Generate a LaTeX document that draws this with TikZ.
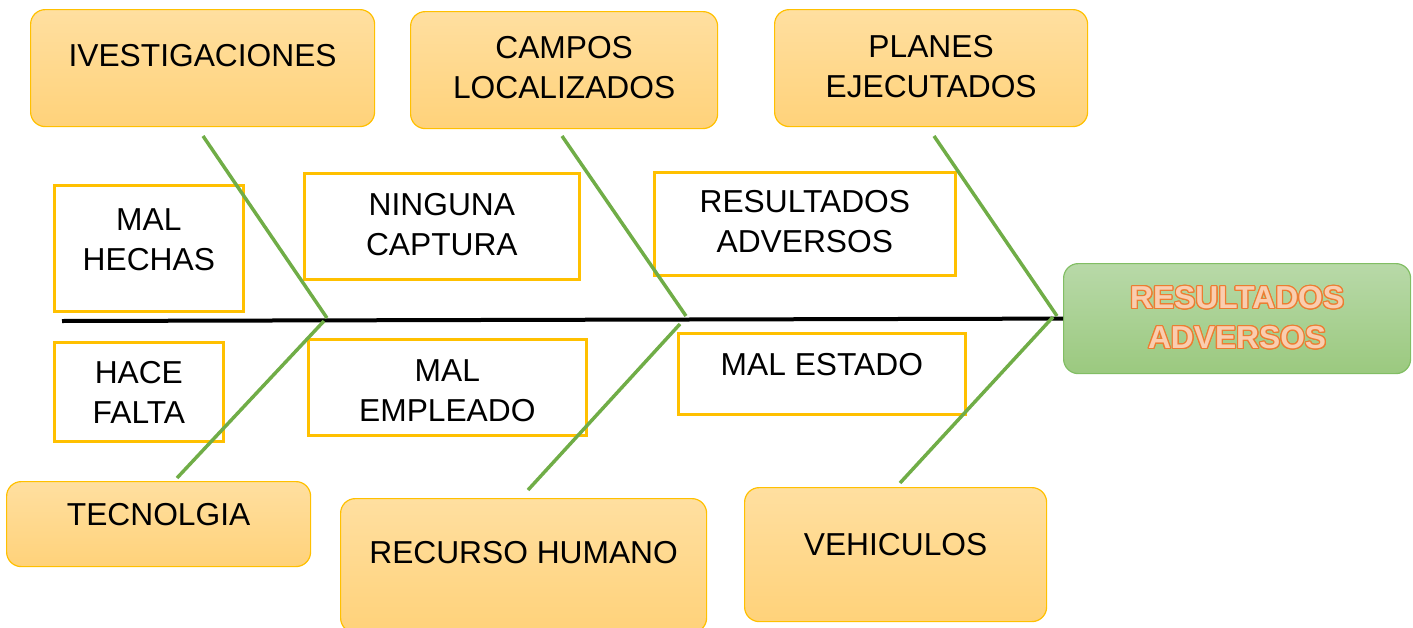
\documentclass[tikz,border=0pt]{standalone}
\usepackage{fontspec}
\setmainfont{Liberation Sans}
\usepackage{contour}
\contourlength{0.9pt}

\definecolor{boxgold}{RGB}{255,192,0}
\definecolor{boxtop}{RGB}{255,223,160}
\definecolor{boxbot}{RGB}{255,210,122}
\definecolor{bonegreen}{RGB}{112,173,71}
\definecolor{restop}{RGB}{184,217,168}
\definecolor{resbot}{RGB}{155,201,127}
\definecolor{resline}{RGB}{130,190,100}
\definecolor{restext}{RGB}{250,205,175}
\definecolor{resedge}{RGB}{237,125,49}

% one pixel of the layout
\newlength{\pxu}\setlength{\pxu}{0.75pt}
% width, height, first baseline, text
\newcommand{\boxtxt}[4]{\parbox[c][#2\pxu][t]{#1\pxu}{\centering\rule{0pt}{#3\pxu}#4}}

\begin{document}
\begin{tikzpicture}[x=0.75pt, y=-0.75pt,
	font=\fontsize{23.8}{30}\selectfont,
	cause/.style={draw=boxgold, line width=0.9pt, rounded corners=11pt, top color=boxtop, bottom color=boxbot, inner sep=0pt, anchor=north west},
	sub/.style={draw=boxgold, line width=2pt, fill=white, inner sep=0pt, anchor=north west},
	bone/.style={draw=bonegreen, line width=2.6pt}]
	
	\useasboundingbox (0,0) rectangle (1413,628);
	
	% causes
	\node[cause] (inv) at (30,9) {\boxtxt{344}{117}{57}{IVESTIGACIONES}};
	\node[cause] (campos) at (410,11) {\boxtxt{307}{117}{47}{CAMPOS\\LOCALIZADOS}};
	\node[cause] (planes) at (774,9) {\boxtxt{313}{117}{48}{PLANES\\EJECUTADOS}};
	\node[cause] (tecn) at (6,481) {\boxtxt{304}{85}{44}{TECNOLGIA}};
	\node[cause] (recurso) at (340,498) {\boxtxt{366}{134}{65}{RECURSO HUMANO}};
	\node[cause] (vehic) at (744,487) {\boxtxt{302}{134}{68}{VEHICULOS}};
	
	% effect
	\node[draw=resline, line width=0.9pt, rounded corners=11pt, top color=restop, bottom color=resbot, inner sep=0pt, anchor=north west, font=\fontsize{23.8}{30}\selectfont\bfseries\color{restext}] (res) at (1063,263)
		{\boxtxt{347}{110}{45}{\contour{resedge}{RESULTADOS}\\\contour{resedge}{ADVERSOS}}};
	
	% sub causes
	\node[sub] (malhechas) at (53,184) {\boxtxt{189}{126}{45}{MAL\\HECHAS}};
	\node[sub] (ninguna) at (303,172) {\boxtxt{275}{106}{42}{NINGUNA\\CAPTURA}};
	\node[sub] (resadv) at (653,171) {\boxtxt{301}{103}{40}{RESULTADOS\\ADVERSOS}};
	\node[sub] (hacefalta) at (53,341) {\boxtxt{169}{99}{41}{HACE\\FALTA}};
	\node[sub] (malempleado) at (307,338) {\boxtxt{278}{96}{42}{MAL\\EMPLEADO}};
	\node[sub] (malestado) at (677,332) {\boxtxt{287}{81}{42}{MAL ESTADO}};
	
	% spine
	\coordinate (tail) at (62,321);
	\draw[line width=3pt] (tail) -- (res.west);
	
	% bones
	\coordinate (t1) at (203,136);
	\coordinate (j1) at (327,318);
	\coordinate (k1) at (324,321);
	\coordinate (b1) at (177,478);
	\coordinate (t2) at (562,136);
	\coordinate (j2) at (686,316);
	\coordinate (k2) at (680,324);
	\coordinate (b2) at (528,490);
	\coordinate (t3) at (934,136);
	\coordinate (j3) at (1057,316);
	\coordinate (k3) at (1053,317);
	\coordinate (b3) at (900,483);
	
	\draw[bone] (t1) -- (j1);
	\draw[bone] (k1) -- (b1);
	\draw[bone] (t2) -- (j2);
	\draw[bone] (k2) -- (b2);
	\draw[bone] (t3) -- (j3);
	\draw[bone] (k3) -- (b3);
	
\end{tikzpicture}
\end{document}
